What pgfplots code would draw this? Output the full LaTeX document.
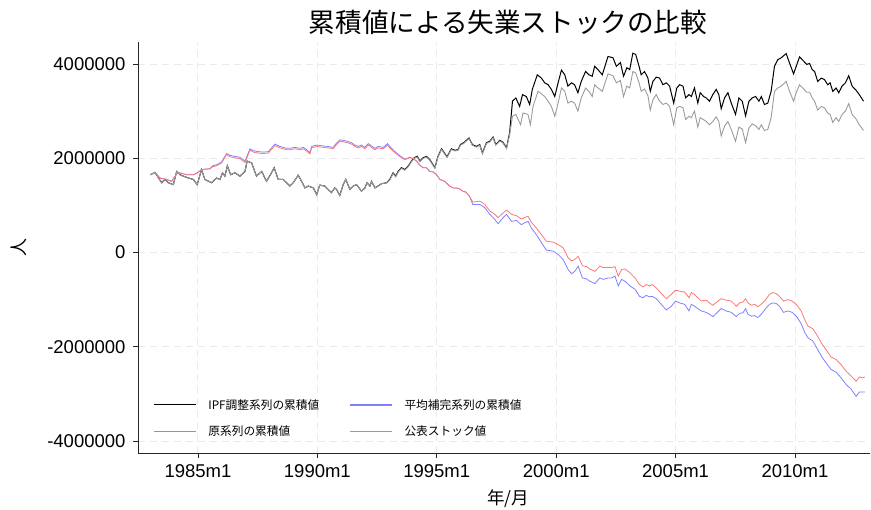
\documentclass[border=0pt]{standalone}
\usepackage{pgfplots}
\pgfplotsset{compat=1.18}
\usepackage{pgfplotstable}
\usepackage{fontspec}
\setmainfont{Liberation Sans}
\newfontfamily\cjk{Noto Sans CJK JP}
\definecolor{cRed}{RGB}{255,120,120}
\definecolor{legRed}{RGB}{255,105,105}
\definecolor{cBlue}{RGB}{128,128,255}
\definecolor{cGray}{RGB}{155,155,155}
\definecolor{cGrid}{RGB}{234,234,234}

\pgfplotstableread{
x y
1983.00 1650000
1983.20 1700000
1983.48 1480000
1983.62 1550000
1983.76 1480000
1983.97 1440000
1984.11 1720000
1984.25 1650000
1984.39 1620000
1984.60 1580000
1984.81 1550000
1984.97 1440000
1985.15 1760000
1985.29 1550000
1985.57 1480000
1985.78 1580000
1985.92 1550000
1986.03 1690000
1986.13 1620000
1986.23 1840000
1986.37 1650000
1986.55 1690000
1986.76 1620000
1986.97 1720000
1987.06 1940000
1987.25 1900000
1987.45 1620000
1987.67 1720000
1987.87 1510000
1988.08 1690000
1988.19 1800000
1988.36 1550000
1988.57 1550000
1988.71 1480000
1988.85 1410000
1988.99 1480000
1989.20 1640000
1989.34 1510000
1989.48 1370000
1989.62 1410000
1989.83 1370000
1989.97 1230000
1990.10 1430000
1990.31 1410000
1990.45 1340000
1990.59 1270000
1990.73 1370000
1990.80 1340000
1990.94 1210000
1991.08 1440000
1991.19 1550000
1991.36 1340000
1991.50 1410000
1991.64 1440000
1991.85 1300000
1991.99 1370000
1992.08 1480000
1992.20 1410000
1992.27 1510000
1992.41 1370000
1992.54 1410000
1992.69 1460000
1992.90 1480000
1993.03 1550000
1993.10 1620000
1993.17 1690000
1993.28 1620000
1993.38 1720000
1993.52 1800000
1993.66 1760000
1993.80 1830000
1993.94 1940000
1994.08 2020000
1994.19 2040000
1994.29 1940000
1994.43 2010000
1994.57 2040000
1994.71 1970000
1994.92 1800000
1995.05 2040000
1995.20 2200000
1995.43 2030000
1995.61 2200000
1995.75 2170000
1995.89 2180000
1995.99 2290000
1996.13 2330000
1996.35 2430000
1996.49 2290000
1996.66 2250000
1996.80 2290000
1996.91 2110000
1997.08 2330000
1997.22 2360000
1997.36 2450000
1997.47 2290000
1997.64 2380000
1997.77 2340000
1997.92 2220000
1998.05 2540000
1998.17 3210000
1998.31 3280000
1998.47 3100000
1998.59 3350000
1998.75 3310000
1998.89 3140000
1999.00 3460000
1999.21 3770000
1999.38 3700000
1999.52 3600000
1999.66 3560000
1999.80 3460000
1999.94 3310000
2000.08 3600000
2000.22 3870000
2000.36 3770000
2000.49 3530000
2000.64 3600000
2000.77 3560000
2000.91 3390000
2001.05 3630000
2001.23 3840000
2001.37 3770000
2001.51 3740000
2001.61 3950000
2001.75 3880000
2001.93 3770000
2002.17 4160000
2002.38 4130000
2002.52 3950000
2002.69 4030000
2002.82 3740000
2002.96 3920000
2003.08 3880000
2003.21 4230000
2003.33 4200000
2003.47 3950000
2003.56 3770000
2003.70 3840000
2003.84 3700000
2003.94 3420000
2004.05 3630000
2004.19 3720000
2004.33 3700000
2004.47 3560000
2004.61 3600000
2004.75 3530000
2004.92 3170000
2005.05 3490000
2005.17 3560000
2005.31 3530000
2005.42 3280000
2005.56 3350000
2005.66 3310000
2005.79 3490000
2005.93 3170000
2006.03 3390000
2006.17 3310000
2006.28 3280000
2006.42 3210000
2006.56 3350000
2006.70 3460000
2006.81 3350000
2006.91 3050000
2007.05 3280000
2007.19 3390000
2007.33 3170000
2007.51 2930000
2007.65 3280000
2007.79 3210000
2007.93 2900000
2008.07 3210000
2008.21 3280000
2008.35 3310000
2008.49 3210000
2008.59 3310000
2008.72 3140000
2008.86 3170000
2009.00 3420000
2009.14 3950000
2009.28 4090000
2009.42 4130000
2009.63 4220000
2009.77 4020000
2009.94 3790000
2010.05 3950000
2010.19 4150000
2010.36 4060000
2010.49 3990000
2010.61 4010000
2010.72 3880000
2010.82 3840000
2010.95 3630000
2011.10 3700000
2011.23 3670000
2011.37 3560000
2011.47 3600000
2011.58 3420000
2011.72 3490000
2011.83 3390000
2011.97 3530000
2012.11 3600000
2012.25 3750000
2012.39 3530000
2012.56 3440000
2012.69 3350000
2012.87 3210000
}\ipf

\pgfplotstableread{
x y
1983.00 1650000
1983.20 1700000
1983.48 1480000
1983.62 1550000
1983.76 1480000
1983.97 1440000
1984.11 1720000
1984.25 1650000
1984.39 1620000
1984.60 1580000
1984.81 1550000
1984.97 1440000
1985.15 1760000
1985.29 1550000
1985.57 1480000
1985.78 1580000
1985.92 1550000
1986.03 1690000
1986.13 1620000
1986.23 1840000
1986.37 1650000
1986.55 1690000
1986.76 1620000
1986.97 1720000
1987.06 1940000
1987.25 1900000
1987.45 1620000
1987.67 1720000
1987.87 1510000
1988.08 1690000
1988.19 1800000
1988.36 1550000
1988.57 1550000
1988.71 1480000
1988.85 1410000
1988.99 1480000
1989.20 1640000
1989.34 1510000
1989.48 1370000
1989.62 1410000
1989.83 1370000
1989.97 1230000
1990.10 1430000
1990.31 1410000
1990.45 1340000
1990.59 1270000
1990.73 1370000
1990.80 1340000
1990.94 1210000
1991.08 1440000
1991.19 1550000
1991.36 1340000
1991.50 1410000
1991.64 1440000
1991.85 1300000
1991.99 1370000
1992.08 1480000
1992.20 1410000
1992.27 1510000
1992.41 1370000
1992.54 1410000
1992.69 1460000
1992.90 1480000
1993.03 1535000
1993.10 1605000
1993.17 1675000
1993.28 1605000
1993.38 1705000
1993.52 1785000
1993.66 1745000
1993.80 1815000
1993.94 1925000
1994.08 2005000
1994.19 2025000
1994.29 1925000
1994.43 1995000
1994.57 2025000
1994.71 1955000
1994.92 1785000
1995.05 2025000
1995.20 2185000
1995.43 2015000
1995.61 2185000
1995.75 2155000
1995.89 2165000
1995.99 2275000
1996.13 2315000
1996.35 2415000
1996.49 2275000
1996.66 2235000
1996.80 2275000
1996.91 2095000
1997.08 2315000
1997.22 2345000
1997.36 2435000
1997.47 2275000
1997.64 2365000
1997.77 2325000
1997.92 2205000
1998.05 2500000
1998.17 2890000
1998.31 2930000
1998.51 2710000
1998.61 2960000
1998.82 2930000
1998.92 2710000
1999.03 3100000
1999.24 3420000
1999.52 3310000
1999.66 3210000
1999.80 3100000
1999.94 2890000
2000.08 3170000
2000.22 3490000
2000.36 3420000
2000.49 3170000
2000.64 3210000
2000.77 3170000
2000.91 3000000
2001.05 3280000
2001.23 3490000
2001.37 3420000
2001.51 3310000
2001.61 3560000
2001.75 3490000
2001.93 3420000
2002.17 3790000
2002.38 3750000
2002.52 3600000
2002.69 3650000
2002.82 3310000
2002.96 3530000
2003.08 3490000
2003.21 3840000
2003.33 3810000
2003.47 3600000
2003.56 3420000
2003.70 3470000
2003.84 3330000
2003.94 3020000
2004.05 3240000
2004.19 3350000
2004.33 3210000
2004.47 3140000
2004.61 3170000
2004.75 3100000
2004.92 2710000
2005.05 3070000
2005.17 3100000
2005.31 3070000
2005.42 2820000
2005.56 2890000
2005.66 2860000
2005.79 3000000
2005.93 2660000
2006.03 2860000
2006.17 2820000
2006.28 2780000
2006.42 2710000
2006.56 2780000
2006.70 2880000
2006.81 2780000
2006.91 2470000
2007.05 2680000
2007.19 2780000
2007.33 2610000
2007.51 2360000
2007.65 2660000
2007.79 2620000
2007.93 2330000
2008.07 2640000
2008.21 2730000
2008.35 2690000
2008.49 2610000
2008.59 2710000
2008.72 2590000
2008.86 2610000
2009.00 2860000
2009.14 3420000
2009.28 3490000
2009.42 3530000
2009.63 3630000
2009.77 3420000
2009.94 3210000
2010.05 3390000
2010.19 3560000
2010.36 3470000
2010.49 3400000
2010.61 3400000
2010.72 3280000
2010.82 3210000
2010.95 3020000
2011.10 3100000
2011.23 3070000
2011.37 2960000
2011.47 2930000
2011.58 2760000
2011.72 2860000
2011.83 2780000
2011.97 2930000
2012.11 3000000
2012.25 3160000
2012.39 2930000
2012.56 2830000
2012.69 2710000
2012.87 2590000
}\official

\pgfplotstableread{
x y
1983.00 1650000
1983.20 1700000
1983.41 1580000
1983.69 1550000
1983.90 1510000
1984.11 1670000
1984.25 1690000
1984.53 1650000
1984.81 1650000
1985.01 1700000
1985.15 1760000
1985.36 1770000
1985.50 1770000
1985.62 1820000
1985.78 1840000
1985.99 1900000
1986.20 2080000
1986.34 2030000
1986.55 2010000
1986.76 1990000
1986.97 1910000
1987.18 2170000
1987.32 2130000
1987.53 2110000
1987.74 2100000
1987.95 2110000
1988.22 2270000
1988.43 2220000
1988.71 2180000
1988.85 2180000
1989.06 2200000
1989.27 2180000
1989.41 2200000
1989.55 2150000
1989.69 2090000
1989.76 2220000
1989.97 2250000
1990.24 2230000
1990.45 2220000
1990.66 2200000
1990.80 2290000
1990.94 2360000
1991.08 2350000
1991.25 2330000
1991.43 2300000
1991.57 2250000
1991.71 2220000
1991.85 2250000
1991.99 2200000
1992.13 2280000
1992.27 2230000
1992.41 2180000
1992.54 2220000
1992.76 2200000
1992.94 2280000
1993.03 2220000
1993.17 2150000
1993.34 2080000
1993.52 2010000
1993.66 1970000
1993.87 2010000
1994.01 1990000
1994.15 1940000
1994.29 1850000
1994.43 1800000
1994.57 1800000
1994.71 1720000
1994.85 1710000
1994.99 1650000
1995.13 1550000
1995.33 1510000
1995.54 1410000
1995.68 1370000
1995.82 1370000
1995.96 1350000
1996.09 1300000
1996.23 1280000
1996.37 1190000
1996.51 1070000
1996.80 1090000
1997.01 1020000
1997.22 880000
1997.43 810000
1997.57 740000
1997.78 840000
1997.92 900000
1998.13 810000
1998.34 780000
1998.54 710000
1998.68 740000
1998.82 770000
1998.96 640000
1999.17 520000
1999.38 380000
1999.59 240000
1999.87 220000
2000.08 170000
2000.29 100000
2000.50 -110000
2000.64 -180000
2000.78 -150000
2000.92 -80000
2001.10 -280000
2001.27 -300000
2001.41 -350000
2001.62 -400000
2001.83 -290000
2001.97 -320000
2002.18 -320000
2002.32 -320000
2002.46 -300000
2002.60 -500000
2002.74 -360000
2002.88 -350000
2003.09 -430000
2003.30 -540000
2003.49 -680000
2003.63 -730000
2003.77 -680000
2003.91 -710000
2004.02 -680000
2004.19 -750000
2004.40 -870000
2004.61 -980000
2004.82 -890000
2005.00 -800000
2005.17 -820000
2005.38 -840000
2005.56 -960000
2005.66 -850000
2005.79 -890000
2005.93 -960000
2006.07 -1030000
2006.28 -1010000
2006.42 -1070000
2006.56 -1120000
2006.73 -1050000
2006.91 -980000
2007.12 -1010000
2007.33 -1030000
2007.54 -1140000
2007.68 -1070000
2007.82 -1050000
2007.93 -980000
2008.03 -1070000
2008.17 -1120000
2008.31 -1100000
2008.44 -1150000
2008.59 -1100000
2008.77 -1000000
2008.93 -890000
2009.07 -850000
2009.21 -870000
2009.35 -930000
2009.52 -1030000
2009.70 -1000000
2009.88 -1030000
2010.05 -1100000
2010.26 -1240000
2010.40 -1420000
2010.54 -1560000
2010.75 -1620000
2010.95 -1780000
2011.14 -1950000
2011.30 -2060000
2011.51 -2220000
2011.72 -2270000
2011.93 -2380000
2012.14 -2520000
2012.35 -2620000
2012.56 -2730000
2012.70 -2640000
2012.84 -2660000
2012.92 -2640000
}\orig

\pgfplotstableread{
x y
1983.00 1650000
1983.20 1700000
1983.41 1580000
1983.69 1550000
1983.90 1510000
1984.11 1670000
1984.25 1690000
1984.53 1650000
1984.81 1650000
1985.01 1700000
1985.15 1760000
1985.36 1770000
1985.50 1780000
1985.62 1840000
1985.78 1860000
1985.99 1920000
1986.20 2100000
1986.34 2060000
1986.55 2040000
1986.76 2020000
1986.97 1940000
1987.18 2200000
1987.32 2160000
1987.53 2140000
1987.74 2130000
1987.95 2140000
1988.22 2300000
1988.43 2250000
1988.71 2210000
1988.85 2210000
1989.06 2230000
1989.27 2210000
1989.41 2230000
1989.55 2180000
1989.69 2120000
1989.76 2250000
1989.97 2280000
1990.24 2260000
1990.45 2250000
1990.66 2230000
1990.80 2320000
1990.94 2390000
1991.08 2380000
1991.25 2360000
1991.43 2330000
1991.57 2280000
1991.71 2250000
1991.85 2280000
1991.99 2230000
1992.13 2310000
1992.27 2260000
1992.41 2210000
1992.54 2250000
1992.76 2230000
1992.94 2310000
1993.03 2250000
1993.17 2180000
1993.34 2100000
1993.52 2030000
1993.66 1980000
1993.87 2020000
1994.01 1995000
1994.15 1940000
1994.29 1850000
1994.43 1800000
1994.57 1800000
1994.71 1720000
1994.85 1710000
1994.99 1650000
1995.13 1550000
1995.33 1510000
1995.54 1410000
1995.68 1370000
1995.82 1370000
1995.96 1350000
1996.09 1300000
1996.23 1280000
1996.37 1190000
1996.51 1020000
1996.80 1020000
1997.01 950000
1997.22 810000
1997.43 700000
1997.57 610000
1997.78 740000
1997.92 810000
1998.13 660000
1998.34 680000
1998.54 590000
1998.68 630000
1998.82 660000
1998.96 520000
1999.17 380000
1999.38 210000
1999.59 50000
1999.87 30000
2000.08 -40000
2000.29 -150000
2000.50 -360000
2000.64 -450000
2000.78 -400000
2000.92 -290000
2001.10 -540000
2001.27 -560000
2001.41 -610000
2001.62 -660000
2001.83 -540000
2001.97 -570000
2002.18 -540000
2002.32 -540000
2002.46 -500000
2002.60 -710000
2002.74 -570000
2002.88 -610000
2003.09 -710000
2003.30 -780000
2003.49 -930000
2003.63 -960000
2003.77 -910000
2003.91 -940000
2004.02 -930000
2004.19 -980000
2004.40 -1100000
2004.61 -1220000
2004.82 -1140000
2005.00 -1030000
2005.17 -1070000
2005.38 -1100000
2005.56 -1240000
2005.66 -1100000
2005.79 -1140000
2005.93 -1190000
2006.07 -1240000
2006.28 -1270000
2006.42 -1310000
2006.56 -1360000
2006.73 -1280000
2006.91 -1190000
2007.12 -1240000
2007.33 -1270000
2007.54 -1360000
2007.68 -1290000
2007.82 -1280000
2007.93 -1190000
2008.03 -1310000
2008.17 -1350000
2008.31 -1340000
2008.44 -1380000
2008.59 -1310000
2008.77 -1190000
2008.93 -1100000
2009.07 -1070000
2009.21 -1080000
2009.35 -1140000
2009.52 -1270000
2009.70 -1240000
2009.88 -1270000
2010.05 -1350000
2010.26 -1510000
2010.40 -1690000
2010.54 -1810000
2010.75 -1880000
2010.95 -2060000
2011.14 -2230000
2011.30 -2340000
2011.51 -2480000
2011.72 -2540000
2011.93 -2660000
2012.14 -2800000
2012.35 -2900000
2012.56 -3050000
2012.70 -2960000
2012.84 -2960000
2012.92 -2960000
}\meanimp

\begin{document}
\begin{tikzpicture}
\begin{axis}[
  scale only axis,
  width=732pt, height=411pt,
  xmin=1982.49, xmax=2013.14,
  ymin=-4254000, ymax=4466000,
  axis line style={draw=none},
  xtick pos=left, ytick pos=left,
  tick align=outside,
  major tick length=5pt,
  tick style={line width=0.8pt, color=black!85},
  scaled y ticks=false,
  xtick={1985,1990,1995,2000,2005,2010},
  xticklabels={1985m1,1990m1,1995m1,2000m1,2005m1,2010m1},
  ytick={-4000000,-2000000,0,2000000,4000000},
  yticklabels={-4000000,-2000000,0,2000000,4000000},
  ticklabel style={font=\fontsize{18.5}{21}\selectfont},
  xticklabel style={yshift=-3pt},
  yticklabel style={xshift=-4pt},
  grid=major,
  major grid style={line width=0.9pt, color=cGrid, dash pattern=on 7pt off 5pt},
  title={\cjk 累積値による失業ストックの比較},
  title style={font=\fontsize{26.6}{31}\selectfont, at={(axis description cs:0.5,1)}, anchor=center, yshift=14pt, xshift=4pt},
  xlabel={\cjk 年/月},
  xlabel style={font=\fontsize{17.5}{20}\selectfont, at={(axis description cs:0.5,0)}, anchor=center, yshift=-46pt, xshift=4pt},
  every axis y label/.style={at={(axis description cs:-0.163,0.5)}, anchor=center, rotate=90, font=\fontsize{18}{20}\selectfont},
  ylabel={\cjk 人},
  legend columns=2,
  legend cell align=left,
  legend image code/.code={\draw[#1] (0pt,0pt) -- (42pt,0pt); \path (52pt,0pt);},
  legend style={draw=none, fill=none, at={(axis description cs:0.0164,0.141)}, anchor=north west,
    font=\cjk\fontsize{11.7}{13}\selectfont, row sep=11pt,
    /tikz/every even column/.append style={column sep=28pt}},
]
\draw[black!85, line width=0.9pt] (rel axis cs:0,1) -- (rel axis cs:0,0) -- (rel axis cs:1,0);
\addplot[color=black, line width=1pt, forget plot] table[x=x,y=y]{\ipf};
\addplot[color=cBlue, line width=0.8pt, forget plot] table[x=x,y=y]{\meanimp};
\addplot[color=cRed, line width=0.8pt, forget plot] table[x=x,y=y]{\orig};
\addplot[color=cGray, line width=0.9pt, forget plot] table[x=x,y=y]{\official};
\addlegendimage{color=black, line width=1pt}
\addlegendentry{IPF調整系列の累積値}
\addlegendimage{color=cBlue, line width=1.2pt}
\addlegendentry{平均補完系列の累積値}
\addlegendimage{color=legRed, line width=1.2pt}
\addlegendentry{原系列の累積値}
\addlegendimage{color=cGray, line width=1.2pt}
\addlegendentry{公表ストック値}
\coordinate (SW) at (rel axis cs:0,0);
\coordinate (NE) at (rel axis cs:1,1);
\end{axis}
\pgfresetboundingbox
\path ([shift={(-138pt,-56pt)}]SW) rectangle ([shift={(1pt,42pt)}]NE);
\end{tikzpicture}
\end{document}
